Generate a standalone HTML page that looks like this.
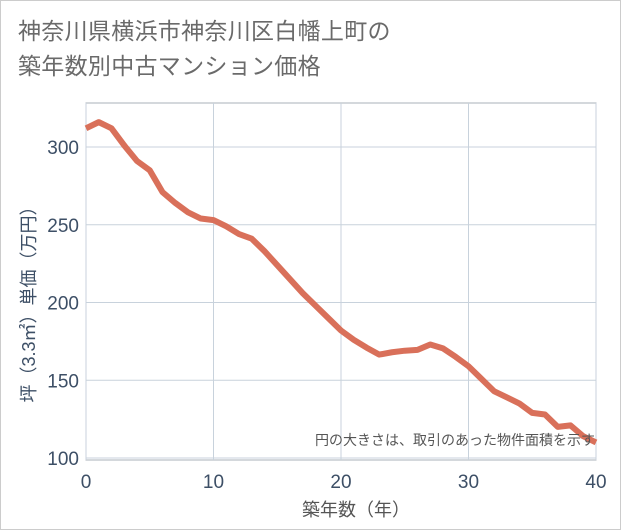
<!DOCTYPE html>
<html><head><meta charset="utf-8"><style>
body{margin:0;background:#fff;font-family:"Liberation Sans","Noto Sans CJK JP",sans-serif}
#wrap{position:relative;width:619px;height:528px;border:1px solid #ccc;background:#fff}
.title{position:absolute;left:17px;top:13px;font-size:23px;line-height:35px;color:#6a6a6a;letter-spacing:0.3px}
</style></head><body>
<div id="wrap">
<div class="title">神奈川県横浜市神奈川区白幡上町の<br>築年数別中古マンション価格</div>
<svg id="chart" width="621" height="530" style="position:absolute;left:-1px;top:-1px"></svg>
</div>
<script>
const years=[0,1,2,3,4,5,6,7,8,9,10,11,12,13,14,15,16,17,18,19,20,21,22,23,24,25,26,27,28,29,30,31,32,33,34,35,36,37,38,39,40];
const prices=[312,316,312,301,291,285,271,264,258,254,253,249,244,241,233,224,215,206,198,190,182,176,171,166.5,168,169,169.5,173,170.5,165,159,151,143,139,135,129,128,120,121,114,110];
const xTicks=[0,10,20,30,40];
const yTicks=[100,150,200,250,300];
const NS="http://www.w3.org/2000/svg";
const svg=document.getElementById('chart');
const L=86,R=596,T=103,B=460;
const x=v=>L+(v-0)/40*(R-L);
const y=v=>458-(v-100)/200*(458-147);
function mk(t,a){const e=document.createElementNS(NS,t);for(const k in a)e.setAttribute(k,a[k]);svg.appendChild(e);return e;}
const bg=mk('rect',{x:L,y:T,width:R-L,height:B-T,fill:'#fff',stroke:'#aab0b8'});


xTicks.forEach(t=>{
 const g=mk('line',{x1:x(t),x2:x(t),y1:T,y2:B,stroke:'#c8d2dc'});
 
 
 const tx=mk('text',{x:x(t),y:488,'text-anchor':'middle','font-size':19,fill:'#3d4f66'});
 tx.textContent=t;
 
 
});
yTicks.forEach(t=>{
 const g=mk('line',{x1:L,x2:R,y1:y(t),y2:y(t),stroke:'#c8d2dc'});
 
 
 const tx=mk('text',{x:79,y:y(t)+7,'text-anchor':'end','font-size':19,fill:'#3d4f66'});
 tx.textContent=t;
 
 
});
const line=mk('polyline',{points:years.map((v,i)=>x(v)+','+y(prices[i])).join(' '),fill:'none',stroke:'#d9705a','stroke-width':6,'stroke-linejoin':'round'});


const note=mk('text',{x:595,y:445,'text-anchor':'end','font-size':14,fill:'#555'});
note.textContent='円の大きさは、取引のあった物件面積を示す';


const xt=mk('text',{x:356,y:516,'text-anchor':'middle','font-size':18,fill:'#555'});
xt.textContent='築年数（年）';


const yt=mk('text',{x:0,y:0,'text-anchor':'middle','font-size':18,fill:'#3d4f66',transform:'translate(35,300) rotate(-90)'});
yt.textContent='坪（3.3㎡）単価（万円）';


</script>
</body></html>
